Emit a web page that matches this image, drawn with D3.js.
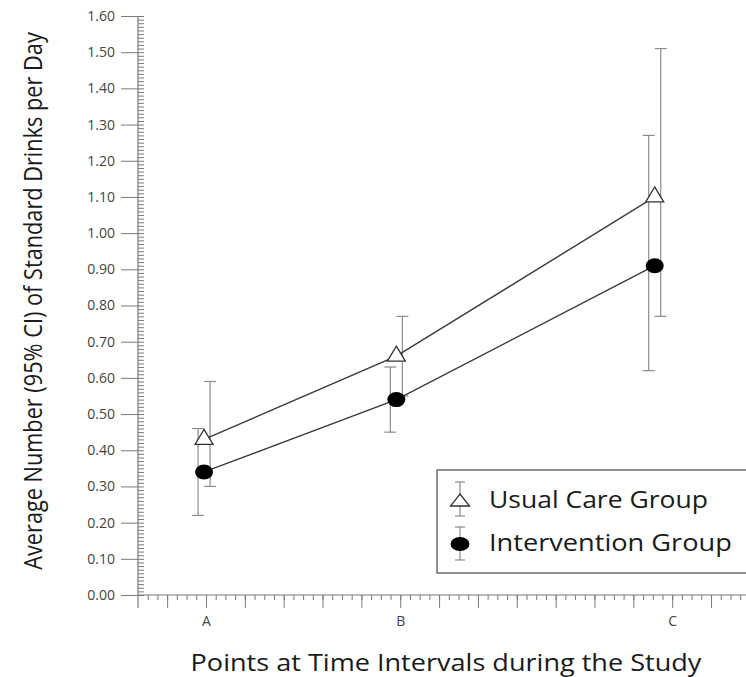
<!DOCTYPE html>
<html>
<head>
<meta charset="utf-8">
<script src="https://cdn.jsdelivr.net/npm/d3@7"></script>
<style>
  html, body { margin: 0; padding: 0; background: #fff; }
  svg { display: block; }
</style>
</head>
<body>
<svg id="chart" width="746" height="677"></svg>
<script>
// time axis labels and where they sit on the axis
const categories = ['A', 'B', 'C'];
const categoryTicks = [2, 7, 14];
// x position of the measured points on the same axis
const pointX = [1.95, 6.9, 13.55];

// Usual Care Group (triangles)
const usualCare = [0.43, 0.66, 1.10];
const usualLow = [0.30, 0.55, 0.77];
const usualHigh = [0.59, 0.77, 1.51];

// Intervention Group (filled circles)
const intervention = [0.34, 0.54, 0.91];
const interventionLow = [0.22, 0.45, 0.62];
const interventionHigh = [0.46, 0.63, 1.27];

const yTickValues = [0, 0.1, 0.2, 0.3, 0.4, 0.5, 0.6, 0.7, 0.8, 0.9, 1.0, 1.1, 1.2, 1.3, 1.4, 1.5, 1.6];
const legendLabels = ['Usual Care Group', 'Intervention Group'];

const svg = d3.select('#chart');
const axisColor = '#7a7a7a';
const barColor = '#8c8c8c';
const lineColor = '#3a3a3a';
const font = '"Open Sans", sans-serif';

const x = d3.scaleLinear().domain([0.25, 15.9]).range([138, 746]);
const y = d3.scaleLinear().domain([0, 1.6]).range([595, 16]);

// squeeze a text horizontally so it spans `width` px (the original uses a condensed face)
function fitText(sel, tx, ty, rot, width) {
  const len = sel.node().getComputedTextLength();
  const k = Math.min(1.2, width / len);
  sel.attr('transform', `translate(${tx},${ty}) rotate(${rot}) scale(${k},1)`);
}

// Y axis: major ticks to the left with labels, minor ticks inside
const yMajor = svg.append('g')
  .attr('transform', 'translate(138,0)')
  .call(d3.axisLeft(y).tickValues(yTickValues).tickSize(17).tickPadding(6).tickFormat(d3.format('.2f')));
yMajor.select('.domain').remove();

const yMinor = svg.append('g')
  .attr('transform', 'translate(138,0)')
  .call(d3.axisRight(y).tickValues(d3.range(0, 161).map(d => d / 100)).tickSize(6).tickFormat(''));
yMinor.select('.domain').remove();

svg.append('line')
  .attr('x1', 138).attr('x2', 138)
  .attr('y1', y(1.6)).attr('y2', 608)
  .attr('stroke', axisColor).attr('stroke-width', 1.2);

// X axis: minor ticks, major ticks, then category labels
const xMinor = svg.append('g')
  .attr('transform', 'translate(0,595)')
  .call(d3.axisBottom(x).tickValues(d3.range(1, 64).map(d => d * 0.25 + 0.25)).tickSize(5).tickFormat(''));
xMinor.select('.domain').remove();

const xMajor = svg.append('g')
  .attr('transform', 'translate(0,595)')
  .call(d3.axisBottom(x).tickValues(d3.range(1, 16)).tickSize(13).tickFormat(''));
xMajor.select('.domain').remove();

const xLabels = svg.append('g')
  .attr('transform', 'translate(0,595)')
  .call(d3.axisBottom(x).tickValues(categoryTicks).tickSize(0).tickPadding(21)
    .tickFormat((d, i) => categories[i]));
xLabels.select('.domain').remove();

svg.append('line')
  .attr('x1', 138).attr('x2', 746)
  .attr('y1', 595).attr('y2', 595)
  .attr('stroke', axisColor).attr('stroke-width', 1.2);

svg.selectAll('.tick line').attr('stroke', axisColor).attr('stroke-width', 1);
svg.selectAll('.tick text')
  .attr('fill', '#444')
  .style('font-family', font)
  .style('font-size', '14px');

// axis titles
const xTitle = svg.append('text')
  .attr('text-anchor', 'middle')
  .attr('fill', '#1a1a1a')
  .style('font-family', font)
  .style('font-size', '24px')
  .text('Points at Time Intervals during the Study');
fitText(xTitle, 446, 671, 0, 511);

const yTitle = svg.append('text')
  .attr('text-anchor', 'middle')
  .attr('fill', '#1a1a1a')
  .style('font-family', font)
  .style('font-size', '25px')
  .text('Average Number (95% CI) of Standard Drinks per Day');
fitText(yTitle, 42, 301, -90, 538);

// error bars (dodged a few pixels so the two groups do not overlap)
function errorBars(low, high, dx) {
  const g = svg.append('g').attr('stroke', barColor).attr('stroke-width', 1.2);
  pointX.forEach((px, i) => {
    const cx = x(px) + dx;
    g.append('line').attr('x1', cx).attr('x2', cx).attr('y1', y(low[i])).attr('y2', y(high[i]));
    g.append('line').attr('x1', cx - 6).attr('x2', cx + 6).attr('y1', y(low[i])).attr('y2', y(low[i]));
    g.append('line').attr('x1', cx - 6).attr('x2', cx + 6).attr('y1', y(high[i])).attr('y2', y(high[i]));
  });
}
errorBars(interventionLow, interventionHigh, -6);
errorBars(usualLow, usualHigh, 6);

// connecting lines
const line = d3.line().x((d, i) => x(pointX[i])).y(d => y(d));
[usualCare, intervention].forEach(series => {
  svg.append('path')
    .datum(series)
    .attr('d', line)
    .attr('fill', 'none')
    .attr('stroke', lineColor)
    .attr('stroke-width', 1.4);
});

// markers
const triPath = 'M0,-10L9,5L-9,5Z';
svg.selectAll('.tri')
  .data(usualCare)
  .enter()
  .append('path')
  .attr('class', 'tri')
  .attr('d', triPath)
  .attr('transform', (d, i) => `translate(${x(pointX[i])},${y(d)})`)
  .attr('fill', '#fff')
  .attr('stroke', '#333')
  .attr('stroke-width', 1.3);

svg.selectAll('.dot')
  .data(intervention)
  .enter()
  .append('ellipse')
  .attr('class', 'dot')
  .attr('cx', (d, i) => x(pointX[i]))
  .attr('cy', d => y(d))
  .attr('rx', 9).attr('ry', 7.5)
  .attr('fill', '#000');

// legend
const legend = svg.append('g');
legend.append('rect')
  .attr('x', 437).attr('y', 470)
  .attr('width', 330).attr('height', 103)
  .attr('fill', '#fff')
  .attr('stroke', '#555')
  .attr('stroke-width', 1.3);

const lg = legend.append('g').attr('stroke', barColor).attr('stroke-width', 1.2);
[[482, 516], [527, 560]].forEach(([a, b]) => {
  lg.append('line').attr('x1', 460).attr('x2', 460).attr('y1', a).attr('y2', b);
  lg.append('line').attr('x1', 455).attr('x2', 465).attr('y1', a).attr('y2', a);
  lg.append('line').attr('x1', 455).attr('x2', 465).attr('y1', b).attr('y2', b);
});
legend.append('path')
  .attr('d', 'M0,-8L9.5,4L-9.5,4Z')
  .attr('transform', 'translate(460,502)')
  .attr('fill', '#fff')
  .attr('stroke', '#333')
  .attr('stroke-width', 1.3);
legend.append('ellipse')
  .attr('cx', 460).attr('cy', 544)
  .attr('rx', 9.5).attr('ry', 7)
  .attr('fill', '#000');

const legendWidths = [219, 243];
legend.selectAll('.lt')
  .data(legendLabels)
  .enter()
  .append('text')
  .attr('class', 'lt')
  .attr('fill', '#1a1a1a')
  .style('font-family', font)
  .style('font-size', '23px')
  .text(d => d)
  .each(function (d, i) {
    fitText(d3.select(this), 489, 508 + i * 43, 0, legendWidths[i]);
  });
</script>
</body>
</html>
